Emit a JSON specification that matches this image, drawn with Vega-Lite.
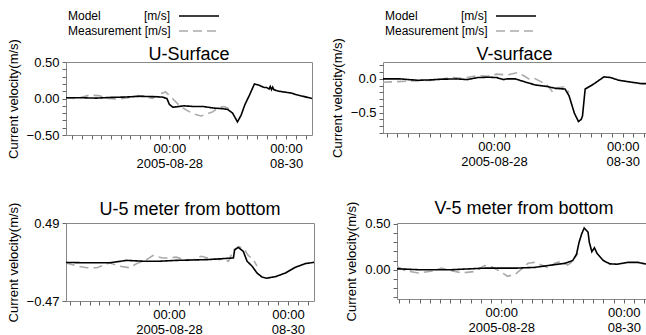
{
  "$schema": "https://vega.github.io/schema/vega-lite/v6.json",
  "background": "white",
  "padding": {"left": 6, "top": 9, "right": 0, "bottom": 0},
  "config": {
    "font": "Liberation Sans",
    "view": {"stroke": "#888888", "strokeWidth": 1},
    "axis": {"grid": false, "domain": false, "labelFont": "Liberation Sans", "labelFontSize": 13, "labelColor": "#000000", "tickColor": "#666666", "tickSize": 4, "titleFont": "Liberation Sans", "titleFontSize": 13, "titleFontWeight": "normal", "titleColor": "#000000", "labelOverlap": false, "labelFlush": false, "labelPadding": 3, "titlePadding": 6},
    "title": {"font": "Liberation Sans", "fontSize": 18, "fontWeight": "normal", "color": "#000000", "frame": "group", "anchor": "middle"},
    "legend": {"labelFont": "Liberation Sans", "labelFontSize": 12, "labelColor": "#000000"}
  },
  "datasets": {
    "d": [
      {"p":"U1","s":"Measurement","t":"2005-08-26T05:30:00Z","v":0.01},
      {"p":"U1","s":"Measurement","t":"2005-08-26T10:00:00Z","v":0.0},
      {"p":"U1","s":"Measurement","t":"2005-08-26T15:00:00Z","v":0.045},
      {"p":"U1","s":"Measurement","t":"2005-08-26T19:00:00Z","v":0.04},
      {"p":"U1","s":"Measurement","t":"2005-08-26T23:00:00Z","v":0.0},
      {"p":"U1","s":"Measurement","t":"2005-08-27T03:00:00Z","v":-0.01},
      {"p":"U1","s":"Measurement","t":"2005-08-27T07:00:00Z","v":0.01},
      {"p":"U1","s":"Measurement","t":"2005-08-27T11:00:00Z","v":0.04},
      {"p":"U1","s":"Measurement","t":"2005-08-27T14:00:00Z","v":0.03},
      {"p":"U1","s":"Measurement","t":"2005-08-27T17:00:00Z","v":0.0},
      {"p":"U1","s":"Measurement","t":"2005-08-27T20:00:00Z","v":0.06},
      {"p":"U1","s":"Measurement","t":"2005-08-27T22:30:00Z","v":0.09},
      {"p":"U1","s":"Measurement","t":"2005-08-28T01:00:00Z","v":0.01},
      {"p":"U1","s":"Measurement","t":"2005-08-28T04:00:00Z","v":-0.09},
      {"p":"U1","s":"Measurement","t":"2005-08-28T07:00:00Z","v":-0.16},
      {"p":"U1","s":"Measurement","t":"2005-08-28T10:00:00Z","v":-0.21},
      {"p":"U1","s":"Measurement","t":"2005-08-28T13:00:00Z","v":-0.24},
      {"p":"U1","s":"Measurement","t":"2005-08-28T15:00:00Z","v":-0.22},
      {"p":"U1","s":"Measurement","t":"2005-08-28T18:00:00Z","v":-0.18},
      {"p":"U1","s":"Measurement","t":"2005-08-28T20:00:00Z","v":-0.13},
      {"p":"U1","s":"Measurement","t":"2005-08-28T22:30:00Z","v":-0.11},
      {"p":"U1","s":"Measurement","t":"2005-08-29T00:00:00Z","v":-0.13},
      {"p":"U1","s":"Measurement","t":"2005-08-29T01:30:00Z","v":-0.17},
      {"p":"U1","s":"Model","t":"2005-08-26T05:30:00Z","v":0.01},
      {"p":"U1","s":"Model","t":"2005-08-26T12:00:00Z","v":0.01},
      {"p":"U1","s":"Model","t":"2005-08-26T18:00:00Z","v":0.005},
      {"p":"U1","s":"Model","t":"2005-08-27T00:00:00Z","v":0.015},
      {"p":"U1","s":"Model","t":"2005-08-27T06:00:00Z","v":0.02},
      {"p":"U1","s":"Model","t":"2005-08-27T12:00:00Z","v":0.03},
      {"p":"U1","s":"Model","t":"2005-08-27T18:00:00Z","v":0.025},
      {"p":"U1","s":"Model","t":"2005-08-27T21:00:00Z","v":0.02},
      {"p":"U1","s":"Model","t":"2005-08-27T23:00:00Z","v":0.0},
      {"p":"U1","s":"Model","t":"2005-08-28T00:00:00Z","v":-0.08},
      {"p":"U1","s":"Model","t":"2005-08-28T01:30:00Z","v":-0.12},
      {"p":"U1","s":"Model","t":"2005-08-28T06:00:00Z","v":-0.1},
      {"p":"U1","s":"Model","t":"2005-08-28T10:00:00Z","v":-0.11},
      {"p":"U1","s":"Model","t":"2005-08-28T14:00:00Z","v":-0.11},
      {"p":"U1","s":"Model","t":"2005-08-28T18:00:00Z","v":-0.13},
      {"p":"U1","s":"Model","t":"2005-08-28T22:00:00Z","v":-0.14},
      {"p":"U1","s":"Model","t":"2005-08-29T00:00:00Z","v":-0.15},
      {"p":"U1","s":"Model","t":"2005-08-29T02:00:00Z","v":-0.2},
      {"p":"U1","s":"Model","t":"2005-08-29T04:00:00Z","v":-0.32},
      {"p":"U1","s":"Model","t":"2005-08-29T05:30:00Z","v":-0.23},
      {"p":"U1","s":"Model","t":"2005-08-29T07:00:00Z","v":-0.09},
      {"p":"U1","s":"Model","t":"2005-08-29T09:00:00Z","v":0.05},
      {"p":"U1","s":"Model","t":"2005-08-29T11:00:00Z","v":0.2},
      {"p":"U1","s":"Model","t":"2005-08-29T13:00:00Z","v":0.18},
      {"p":"U1","s":"Model","t":"2005-08-29T15:00:00Z","v":0.15},
      {"p":"U1","s":"Model","t":"2005-08-29T16:00:00Z","v":0.15},
      {"p":"U1","s":"Model","t":"2005-08-29T17:00:00Z","v":0.13},
      {"p":"U1","s":"Model","t":"2005-08-29T17:30:00Z","v":0.165},
      {"p":"U1","s":"Model","t":"2005-08-29T18:00:00Z","v":0.12},
      {"p":"U1","s":"Model","t":"2005-08-29T18:30:00Z","v":0.155},
      {"p":"U1","s":"Model","t":"2005-08-29T19:00:00Z","v":0.12},
      {"p":"U1","s":"Model","t":"2005-08-29T21:00:00Z","v":0.1},
      {"p":"U1","s":"Model","t":"2005-08-29T23:00:00Z","v":0.09},
      {"p":"U1","s":"Model","t":"2005-08-30T02:00:00Z","v":0.075},
      {"p":"U1","s":"Model","t":"2005-08-30T04:30:00Z","v":0.05},
      {"p":"U1","s":"Model","t":"2005-08-30T07:00:00Z","v":0.03},
      {"p":"U1","s":"Model","t":"2005-08-30T10:40:00Z","v":0.0},
      {"p":"V1","s":"Measurement","t":"2005-08-26T06:40:00Z","v":-0.05},
      {"p":"V1","s":"Measurement","t":"2005-08-26T12:00:00Z","v":-0.04},
      {"p":"V1","s":"Measurement","t":"2005-08-26T18:00:00Z","v":-0.03},
      {"p":"V1","s":"Measurement","t":"2005-08-27T02:00:00Z","v":-0.02},
      {"p":"V1","s":"Measurement","t":"2005-08-27T08:00:00Z","v":0.02},
      {"p":"V1","s":"Measurement","t":"2005-08-27T12:00:00Z","v":0.01},
      {"p":"V1","s":"Measurement","t":"2005-08-27T14:00:00Z","v":0.02},
      {"p":"V1","s":"Measurement","t":"2005-08-27T18:00:00Z","v":0.05},
      {"p":"V1","s":"Measurement","t":"2005-08-27T21:30:00Z","v":0.04},
      {"p":"V1","s":"Measurement","t":"2005-08-28T01:00:00Z","v":0.07},
      {"p":"V1","s":"Measurement","t":"2005-08-28T05:00:00Z","v":0.06},
      {"p":"V1","s":"Measurement","t":"2005-08-28T08:30:00Z","v":0.09},
      {"p":"V1","s":"Measurement","t":"2005-08-28T11:00:00Z","v":0.05},
      {"p":"V1","s":"Measurement","t":"2005-08-28T13:00:00Z","v":0.0},
      {"p":"V1","s":"Measurement","t":"2005-08-28T15:00:00Z","v":0.01},
      {"p":"V1","s":"Measurement","t":"2005-08-28T17:30:00Z","v":-0.04},
      {"p":"V1","s":"Measurement","t":"2005-08-28T20:00:00Z","v":-0.1},
      {"p":"V1","s":"Measurement","t":"2005-08-28T22:00:00Z","v":-0.2},
      {"p":"V1","s":"Measurement","t":"2005-08-28T23:30:00Z","v":-0.13},
      {"p":"V1","s":"Measurement","t":"2005-08-29T02:00:00Z","v":-0.12},
      {"p":"V1","s":"Measurement","t":"2005-08-29T04:00:00Z","v":-0.2},
      {"p":"V1","s":"Model","t":"2005-08-26T06:40:00Z","v":0.0},
      {"p":"V1","s":"Model","t":"2005-08-26T13:00:00Z","v":0.0},
      {"p":"V1","s":"Model","t":"2005-08-26T19:30:00Z","v":-0.02},
      {"p":"V1","s":"Model","t":"2005-08-27T00:00:00Z","v":-0.015},
      {"p":"V1","s":"Model","t":"2005-08-27T04:00:00Z","v":-0.005},
      {"p":"V1","s":"Model","t":"2005-08-27T10:00:00Z","v":0.0},
      {"p":"V1","s":"Model","t":"2005-08-27T14:00:00Z","v":-0.01},
      {"p":"V1","s":"Model","t":"2005-08-27T18:00:00Z","v":0.02},
      {"p":"V1","s":"Model","t":"2005-08-27T22:00:00Z","v":0.025},
      {"p":"V1","s":"Model","t":"2005-08-28T01:00:00Z","v":0.02},
      {"p":"V1","s":"Model","t":"2005-08-28T03:30:00Z","v":-0.01},
      {"p":"V1","s":"Model","t":"2005-08-28T05:00:00Z","v":0.0},
      {"p":"V1","s":"Model","t":"2005-08-28T08:00:00Z","v":0.0},
      {"p":"V1","s":"Model","t":"2005-08-28T12:00:00Z","v":-0.05},
      {"p":"V1","s":"Model","t":"2005-08-28T15:30:00Z","v":-0.09},
      {"p":"V1","s":"Model","t":"2005-08-28T19:30:00Z","v":-0.11},
      {"p":"V1","s":"Model","t":"2005-08-28T23:00:00Z","v":-0.14},
      {"p":"V1","s":"Model","t":"2005-08-29T02:30:00Z","v":-0.15},
      {"p":"V1","s":"Model","t":"2005-08-29T04:00:00Z","v":-0.25},
      {"p":"V1","s":"Model","t":"2005-08-29T06:00:00Z","v":-0.51},
      {"p":"V1","s":"Model","t":"2005-08-29T07:30:00Z","v":-0.63},
      {"p":"V1","s":"Model","t":"2005-08-29T08:30:00Z","v":-0.6},
      {"p":"V1","s":"Model","t":"2005-08-29T09:00:00Z","v":-0.55},
      {"p":"V1","s":"Model","t":"2005-08-29T10:00:00Z","v":-0.15},
      {"p":"V1","s":"Model","t":"2005-08-29T13:00:00Z","v":-0.08},
      {"p":"V1","s":"Model","t":"2005-08-29T17:00:00Z","v":0.03},
      {"p":"V1","s":"Model","t":"2005-08-29T19:30:00Z","v":0.02},
      {"p":"V1","s":"Model","t":"2005-08-29T22:30:00Z","v":-0.02},
      {"p":"V1","s":"Model","t":"2005-08-30T03:30:00Z","v":-0.05},
      {"p":"V1","s":"Model","t":"2005-08-30T07:00:00Z","v":-0.07},
      {"p":"V1","s":"Model","t":"2005-08-30T08:40:00Z","v":-0.07},
      {"p":"U5","s":"Measurement","t":"2005-08-26T06:30:00Z","v":0.0},
      {"p":"U5","s":"Measurement","t":"2005-08-26T11:00:00Z","v":-0.04},
      {"p":"U5","s":"Measurement","t":"2005-08-26T15:00:00Z","v":-0.06},
      {"p":"U5","s":"Measurement","t":"2005-08-26T19:00:00Z","v":-0.06},
      {"p":"U5","s":"Measurement","t":"2005-08-27T00:00:00Z","v":0.0},
      {"p":"U5","s":"Measurement","t":"2005-08-27T04:00:00Z","v":-0.04},
      {"p":"U5","s":"Measurement","t":"2005-08-27T08:00:00Z","v":-0.06},
      {"p":"U5","s":"Measurement","t":"2005-08-27T11:00:00Z","v":-0.01},
      {"p":"U5","s":"Measurement","t":"2005-08-27T15:00:00Z","v":0.04},
      {"p":"U5","s":"Measurement","t":"2005-08-27T17:30:00Z","v":0.09},
      {"p":"U5","s":"Measurement","t":"2005-08-27T21:30:00Z","v":0.06},
      {"p":"U5","s":"Measurement","t":"2005-08-28T00:00:00Z","v":0.06},
      {"p":"U5","s":"Measurement","t":"2005-08-28T03:00:00Z","v":0.07},
      {"p":"U5","s":"Measurement","t":"2005-08-28T07:00:00Z","v":0.03},
      {"p":"U5","s":"Measurement","t":"2005-08-28T10:00:00Z","v":0.04},
      {"p":"U5","s":"Measurement","t":"2005-08-28T13:00:00Z","v":0.08},
      {"p":"U5","s":"Measurement","t":"2005-08-28T17:00:00Z","v":0.05},
      {"p":"U5","s":"Measurement","t":"2005-08-28T20:00:00Z","v":0.04},
      {"p":"U5","s":"Measurement","t":"2005-08-28T22:00:00Z","v":0.04},
      {"p":"U5","s":"Measurement","t":"2005-08-29T00:00:00Z","v":0.02},
      {"p":"U5","s":"Measurement","t":"2005-08-29T02:00:00Z","v":0.15},
      {"p":"U5","s":"Measurement","t":"2005-08-29T04:00:00Z","v":0.2},
      {"p":"U5","s":"Measurement","t":"2005-08-29T06:00:00Z","v":0.18},
      {"p":"U5","s":"Measurement","t":"2005-08-29T08:00:00Z","v":0.09},
      {"p":"U5","s":"Measurement","t":"2005-08-29T10:00:00Z","v":0.04},
      {"p":"U5","s":"Measurement","t":"2005-08-29T11:30:00Z","v":-0.04},
      {"p":"U5","s":"Model","t":"2005-08-26T06:30:00Z","v":0.005},
      {"p":"U5","s":"Model","t":"2005-08-26T15:00:00Z","v":0.0},
      {"p":"U5","s":"Model","t":"2005-08-27T00:00:00Z","v":0.0},
      {"p":"U5","s":"Model","t":"2005-08-27T07:00:00Z","v":0.03},
      {"p":"U5","s":"Model","t":"2005-08-27T13:30:00Z","v":0.02},
      {"p":"U5","s":"Model","t":"2005-08-27T20:30:00Z","v":0.02},
      {"p":"U5","s":"Model","t":"2005-08-28T03:00:00Z","v":0.03},
      {"p":"U5","s":"Model","t":"2005-08-28T10:00:00Z","v":0.035},
      {"p":"U5","s":"Model","t":"2005-08-28T16:00:00Z","v":0.04},
      {"p":"U5","s":"Model","t":"2005-08-28T21:00:00Z","v":0.05},
      {"p":"U5","s":"Model","t":"2005-08-29T02:00:00Z","v":0.06},
      {"p":"U5","s":"Model","t":"2005-08-29T02:30:00Z","v":0.16},
      {"p":"U5","s":"Model","t":"2005-08-29T04:00:00Z","v":0.19},
      {"p":"U5","s":"Model","t":"2005-08-29T06:00:00Z","v":0.14},
      {"p":"U5","s":"Model","t":"2005-08-29T07:30:00Z","v":0.02},
      {"p":"U5","s":"Model","t":"2005-08-29T09:30:00Z","v":-0.04},
      {"p":"U5","s":"Model","t":"2005-08-29T11:30:00Z","v":-0.125},
      {"p":"U5","s":"Model","t":"2005-08-29T13:30:00Z","v":-0.175},
      {"p":"U5","s":"Model","t":"2005-08-29T15:30:00Z","v":-0.19},
      {"p":"U5","s":"Model","t":"2005-08-29T17:00:00Z","v":-0.18},
      {"p":"U5","s":"Model","t":"2005-08-29T19:00:00Z","v":-0.17},
      {"p":"U5","s":"Model","t":"2005-08-29T23:00:00Z","v":-0.125},
      {"p":"U5","s":"Model","t":"2005-08-30T03:00:00Z","v":-0.055},
      {"p":"U5","s":"Model","t":"2005-08-30T07:00:00Z","v":-0.01},
      {"p":"U5","s":"Model","t":"2005-08-30T10:30:00Z","v":0.006},
      {"p":"V5","s":"Measurement","t":"2005-08-26T07:10:00Z","v":0.035},
      {"p":"V5","s":"Measurement","t":"2005-08-26T10:30:00Z","v":-0.01},
      {"p":"V5","s":"Measurement","t":"2005-08-26T15:30:00Z","v":-0.036},
      {"p":"V5","s":"Measurement","t":"2005-08-26T21:00:00Z","v":-0.015},
      {"p":"V5","s":"Measurement","t":"2005-08-27T00:30:00Z","v":0.017},
      {"p":"V5","s":"Measurement","t":"2005-08-27T04:30:00Z","v":-0.01},
      {"p":"V5","s":"Measurement","t":"2005-08-27T08:30:00Z","v":-0.036},
      {"p":"V5","s":"Measurement","t":"2005-08-27T13:30:00Z","v":-0.02},
      {"p":"V5","s":"Measurement","t":"2005-08-27T17:30:00Z","v":0.046},
      {"p":"V5","s":"Measurement","t":"2005-08-27T20:00:00Z","v":0.035},
      {"p":"V5","s":"Measurement","t":"2005-08-27T23:00:00Z","v":-0.01},
      {"p":"V5","s":"Measurement","t":"2005-08-28T02:30:00Z","v":-0.072},
      {"p":"V5","s":"Measurement","t":"2005-08-28T05:30:00Z","v":-0.05},
      {"p":"V5","s":"Measurement","t":"2005-08-28T08:00:00Z","v":0.01},
      {"p":"V5","s":"Measurement","t":"2005-08-28T10:30:00Z","v":0.07},
      {"p":"V5","s":"Measurement","t":"2005-08-28T13:00:00Z","v":0.08},
      {"p":"V5","s":"Measurement","t":"2005-08-28T16:00:00Z","v":0.05},
      {"p":"V5","s":"Measurement","t":"2005-08-28T18:30:00Z","v":0.017},
      {"p":"V5","s":"Measurement","t":"2005-08-28T21:00:00Z","v":0.07},
      {"p":"V5","s":"Measurement","t":"2005-08-28T23:30:00Z","v":0.09},
      {"p":"V5","s":"Measurement","t":"2005-08-29T02:00:00Z","v":0.05},
      {"p":"V5","s":"Measurement","t":"2005-08-29T04:00:00Z","v":0.09},
      {"p":"V5","s":"Measurement","t":"2005-08-29T06:00:00Z","v":0.18},
      {"p":"V5","s":"Model","t":"2005-08-26T07:10:00Z","v":0.01},
      {"p":"V5","s":"Model","t":"2005-08-26T15:30:00Z","v":0.0},
      {"p":"V5","s":"Model","t":"2005-08-27T04:30:00Z","v":0.0},
      {"p":"V5","s":"Model","t":"2005-08-27T17:30:00Z","v":0.017},
      {"p":"V5","s":"Model","t":"2005-08-28T05:30:00Z","v":0.017},
      {"p":"V5","s":"Model","t":"2005-08-28T13:00:00Z","v":0.025},
      {"p":"V5","s":"Model","t":"2005-08-28T19:30:00Z","v":0.05},
      {"p":"V5","s":"Model","t":"2005-08-29T01:00:00Z","v":0.07},
      {"p":"V5","s":"Model","t":"2005-08-29T04:00:00Z","v":0.1},
      {"p":"V5","s":"Model","t":"2005-08-29T05:30:00Z","v":0.17},
      {"p":"V5","s":"Model","t":"2005-08-29T06:30:00Z","v":0.3},
      {"p":"V5","s":"Model","t":"2005-08-29T07:30:00Z","v":0.39},
      {"p":"V5","s":"Model","t":"2005-08-29T08:30:00Z","v":0.455},
      {"p":"V5","s":"Model","t":"2005-08-29T10:00:00Z","v":0.41},
      {"p":"V5","s":"Model","t":"2005-08-29T10:30:00Z","v":0.3},
      {"p":"V5","s":"Model","t":"2005-08-29T11:30:00Z","v":0.196},
      {"p":"V5","s":"Model","t":"2005-08-29T12:30:00Z","v":0.24},
      {"p":"V5","s":"Model","t":"2005-08-29T13:30:00Z","v":0.18},
      {"p":"V5","s":"Model","t":"2005-08-29T16:00:00Z","v":0.1},
      {"p":"V5","s":"Model","t":"2005-08-29T18:30:00Z","v":0.064},
      {"p":"V5","s":"Model","t":"2005-08-29T21:30:00Z","v":0.06},
      {"p":"V5","s":"Model","t":"2005-08-30T01:30:00Z","v":0.08},
      {"p":"V5","s":"Model","t":"2005-08-30T05:30:00Z","v":0.08},
      {"p":"V5","s":"Model","t":"2005-08-30T09:00:00Z","v":0.06},
      {"p":"V5","s":"Model","t":"2005-08-30T10:40:00Z","v":0.05}
    ]
  },
  "vconcat": [
    {
      "hconcat": [
        {
          "width": 246, "height": 73,
          "title": {"text": "U-Surface", "offset": -54},
          "data": {"name": "d"},
          "transform": [{"filter": "datum.p == 'U1'"}],
          "layer": [
            {
              "mark": {"type": "line", "clip": true, "strokeWidth": 1.6},
              "encoding": {
                "x": {"field": "t", "type": "temporal", "scale": {"type": "utc", "nice": false},
                  "axis": {"title": null, "orient": "bottom", "values": [1125043200000,1125057600000,1125072000000,1125086400000,1125100800000,1125115200000,1125129600000,1125144000000,1125158400000,1125172800000,1125187200000,1125201600000,1125216000000,1125230400000,1125244800000,1125259200000,1125273600000,1125288000000,1125302400000,1125316800000,1125331200000,1125345600000,1125360000000,1125374400000,1125388800000],
                    "labelExpr": "(toNumber(datum.value) == 1125187200000 || toNumber(datum.value) == 1125360000000) ? '00:00' : ''"}},
                "y": {"field": "v", "type": "quantitative", "scale": {"domain": [-0.5, 0.5], "nice": false, "zero": false},
                  "axis": {"title": "Current velocity(m/s)", "values": [-0.5, -0.4, -0.3, -0.2, -0.1, 0, 0.1, 0.2, 0.3, 0.4, 0.5],
                    "labelExpr": "(abs(datum.value) < 0.001 || abs(abs(datum.value) - 0.5) < 0.001) ? format(datum.value, '.2f') : ''"}},
                "color": {"field": "s", "type": "nominal",
                  "scale": {"domain": ["Model", "Measurement"], "range": ["#000000", "#aaaaaa"]},
                  "legend": {"orient": "none", "legendX": 0, "legendY": -52, "title": null, "symbolType": "M-4,0H4", "symbolSize": 100, "symbolStrokeWidth": 1.6, "symbolOffset": 127, "labelOffset": -137, "rowPadding": 3,
                    "labelExpr": "datum.label == 'Model' ? 'Model\u00a0\u00a0\u00a0\u00a0\u00a0\u00a0\u00a0\u00a0\u00a0\u00a0\u00a0\u00a0\u00a0[m/s]' : 'Measurement\u00a0[m/s]'"}},
                "strokeDash": {"field": "s", "type": "nominal",
                  "scale": {"domain": ["Model", "Measurement"], "range": [[1, 0], [9, 5]]},
                  "legend": {"orient": "none", "legendX": 0, "legendY": -52, "title": null, "symbolType": "M-4,0H4", "symbolSize": 100, "symbolStrokeWidth": 1.6, "symbolOffset": 127, "labelOffset": -137, "rowPadding": 3,
                    "labelExpr": "datum.label == 'Model' ? 'Model\u00a0\u00a0\u00a0\u00a0\u00a0\u00a0\u00a0\u00a0\u00a0\u00a0\u00a0\u00a0\u00a0[m/s]' : 'Measurement\u00a0[m/s]'"}}
              }
            },
            {
              "mark": {"type": "rule", "strokeOpacity": 0},
              "encoding": {
                "x": {"field": "t", "type": "temporal",
                  "axis": {"title": null, "orient": "bottom", "values": [1125187200000, 1125360000000], "ticks": false, "tickSize": 0, "labelPadding": 22,
                    "labelExpr": "toNumber(datum.value) == 1125187200000 ? '2005-08-28' : '08-30'"}}
              }
            }
          ],
          "resolve": {"axis": {"x": "independent"}}
        },
        {
          "width": 263, "height": 71,
          "title": {"text": "V-surface", "offset": -54},
          "data": {"name": "d"},
          "transform": [{"filter": "datum.p == 'V1'"}],
          "layer": [
            {
              "mark": {"type": "line", "clip": true, "strokeWidth": 1.6},
              "encoding": {
                "x": {"field": "t", "type": "temporal", "scale": {"type": "utc", "nice": false},
                  "axis": {"title": null, "orient": "bottom", "values": [1125043200000,1125057600000,1125072000000,1125086400000,1125100800000,1125115200000,1125129600000,1125144000000,1125158400000,1125172800000,1125187200000,1125201600000,1125216000000,1125230400000,1125244800000,1125259200000,1125273600000,1125288000000,1125302400000,1125316800000,1125331200000,1125345600000,1125360000000,1125374400000,1125388800000],
                    "labelExpr": "(toNumber(datum.value) == 1125187200000 || toNumber(datum.value) == 1125360000000) ? '00:00' : ''"}},
                "y": {"field": "v", "type": "quantitative", "scale": {"domain": [-0.8, 0.25], "nice": false, "zero": false},
                  "axis": {"title": "Current velocity(m/s)", "values": [-0.8, -0.7, -0.6, -0.5, -0.4, -0.3, -0.2, -0.1, 0, 0.1, 0.2],
                    "labelExpr": "(abs(datum.value) < 0.001 || abs(datum.value + 0.5) < 0.001) ? format(datum.value, '.1f') : ''"}},
                "color": {"field": "s", "type": "nominal",
                  "scale": {"domain": ["Model", "Measurement"], "range": ["#000000", "#aaaaaa"]},
                  "legend": {"orient": "none", "legendX": 0, "legendY": -52, "title": null, "symbolType": "M-4,0H4", "symbolSize": 100, "symbolStrokeWidth": 1.6, "symbolOffset": 127, "labelOffset": -137, "rowPadding": 3,
                    "labelExpr": "datum.label == 'Model' ? 'Model\u00a0\u00a0\u00a0\u00a0\u00a0\u00a0\u00a0\u00a0\u00a0\u00a0\u00a0\u00a0\u00a0[m/s]' : 'Measurement\u00a0[m/s]'"}},
                "strokeDash": {"field": "s", "type": "nominal",
                  "scale": {"domain": ["Model", "Measurement"], "range": [[1, 0], [9, 5]]},
                  "legend": {"orient": "none", "legendX": 0, "legendY": -52, "title": null, "symbolType": "M-4,0H4", "symbolSize": 100, "symbolStrokeWidth": 1.6, "symbolOffset": 127, "labelOffset": -137, "rowPadding": 3,
                    "labelExpr": "datum.label == 'Model' ? 'Model\u00a0\u00a0\u00a0\u00a0\u00a0\u00a0\u00a0\u00a0\u00a0\u00a0\u00a0\u00a0\u00a0[m/s]' : 'Measurement\u00a0[m/s]'"}}
              }
            },
            {
              "mark": {"type": "rule", "strokeOpacity": 0},
              "encoding": {
                "x": {"field": "t", "type": "temporal",
                  "axis": {"title": null, "orient": "bottom", "values": [1125187200000, 1125360000000], "ticks": false, "tickSize": 0, "labelPadding": 22,
                    "labelExpr": "toNumber(datum.value) == 1125187200000 ? '2005-08-28' : '08-30'"}}
              }
            }
          ],
          "resolve": {"axis": {"x": "independent"}}
        }
      ],
      "spacing": 17,
      "resolve": {"scale": {"color": "independent", "strokeDash": "independent"}, "legend": {"color": "independent", "strokeDash": "independent"}}
    },
    {
      "hconcat": [
        {
          "width": 248, "height": 78,
          "title": {"text": "U-5 meter from bottom", "offset": -17},
          "data": {"name": "d"},
          "transform": [{"filter": "datum.p == 'U5'"}],
          "layer": [
            {
              "mark": {"type": "line", "clip": true, "strokeWidth": 1.6},
              "encoding": {
                "x": {"field": "t", "type": "temporal", "scale": {"type": "utc", "nice": false},
                  "axis": {"title": null, "orient": "bottom", "values": [1125043200000,1125057600000,1125072000000,1125086400000,1125100800000,1125115200000,1125129600000,1125144000000,1125158400000,1125172800000,1125187200000,1125201600000,1125216000000,1125230400000,1125244800000,1125259200000,1125273600000,1125288000000,1125302400000,1125316800000,1125331200000,1125345600000,1125360000000,1125374400000,1125388800000],
                    "labelExpr": "(toNumber(datum.value) == 1125187200000 || toNumber(datum.value) == 1125360000000) ? '00:00' : ''"}},
                "y": {"field": "v", "type": "quantitative", "scale": {"domain": [-0.47, 0.49], "nice": false, "zero": false},
                  "axis": {"title": "Current velocity(m/s)", "values": [-0.47, 0.49], "format": ".2f"}},
                "color": {"field": "s", "type": "nominal",
                  "scale": {"domain": ["Model", "Measurement"], "range": ["#000000", "#aaaaaa"]}, "legend": null},
                "strokeDash": {"field": "s", "type": "nominal",
                  "scale": {"domain": ["Model", "Measurement"], "range": [[1, 0], [9, 5]]}, "legend": null}
              }
            },
            {
              "mark": {"type": "rule", "strokeOpacity": 0},
              "encoding": {
                "x": {"field": "t", "type": "temporal",
                  "axis": {"title": null, "orient": "bottom", "values": [1125187200000, 1125360000000], "ticks": false, "tickSize": 0, "labelPadding": 22,
                    "labelExpr": "toNumber(datum.value) == 1125187200000 ? '2005-08-28' : '08-30'"}}
              }
            }
          ],
          "resolve": {"axis": {"x": "independent"}}
        },
        {
          "width": 254, "height": 76,
          "title": {"text": "V-5 meter from bottom", "offset": -17},
          "data": {"name": "d"},
          "transform": [{"filter": "datum.p == 'V5'"}],
          "layer": [
            {
              "mark": {"type": "line", "clip": true, "strokeWidth": 1.6},
              "encoding": {
                "x": {"field": "t", "type": "temporal", "scale": {"type": "utc", "nice": false},
                  "axis": {"title": null, "orient": "bottom", "values": [1125043200000,1125057600000,1125072000000,1125086400000,1125100800000,1125115200000,1125129600000,1125144000000,1125158400000,1125172800000,1125187200000,1125201600000,1125216000000,1125230400000,1125244800000,1125259200000,1125273600000,1125288000000,1125302400000,1125316800000,1125331200000,1125345600000,1125360000000,1125374400000,1125388800000],
                    "labelExpr": "(toNumber(datum.value) == 1125187200000 || toNumber(datum.value) == 1125360000000) ? '00:00' : ''"}},
                "y": {"field": "v", "type": "quantitative", "scale": {"domain": [-0.32, 0.51], "nice": false, "zero": false},
                  "axis": {"title": "Current velocity(m/s)", "values": [-0.3, -0.2, -0.1, 0, 0.1, 0.2, 0.3, 0.4, 0.5],
                    "labelExpr": "(abs(datum.value) < 0.001 || abs(datum.value - 0.5) < 0.001) ? format(datum.value, '.2f') : ''"}},
                "color": {"field": "s", "type": "nominal",
                  "scale": {"domain": ["Model", "Measurement"], "range": ["#000000", "#aaaaaa"]}, "legend": null},
                "strokeDash": {"field": "s", "type": "nominal",
                  "scale": {"domain": ["Model", "Measurement"], "range": [[1, 0], [9, 5]]}, "legend": null}
              }
            },
            {
              "mark": {"type": "rule", "strokeOpacity": 0},
              "encoding": {
                "x": {"field": "t", "type": "temporal",
                  "axis": {"title": null, "orient": "bottom", "values": [1125187200000, 1125360000000], "ticks": false, "tickSize": 0, "labelPadding": 22,
                    "labelExpr": "toNumber(datum.value) == 1125187200000 ? '2005-08-28' : '08-30'"}}
              }
            }
          ],
          "resolve": {"axis": {"x": "independent"}}
        }
      ],
      "spacing": 30,
      "resolve": {"scale": {"color": "independent", "strokeDash": "independent"}, "legend": {"color": "independent", "strokeDash": "independent"}}
    }
  ],
  "spacing": 28,
  "resolve": {"scale": {"color": "independent", "strokeDash": "independent"}, "legend": {"color": "independent", "strokeDash": "independent"}}
}
